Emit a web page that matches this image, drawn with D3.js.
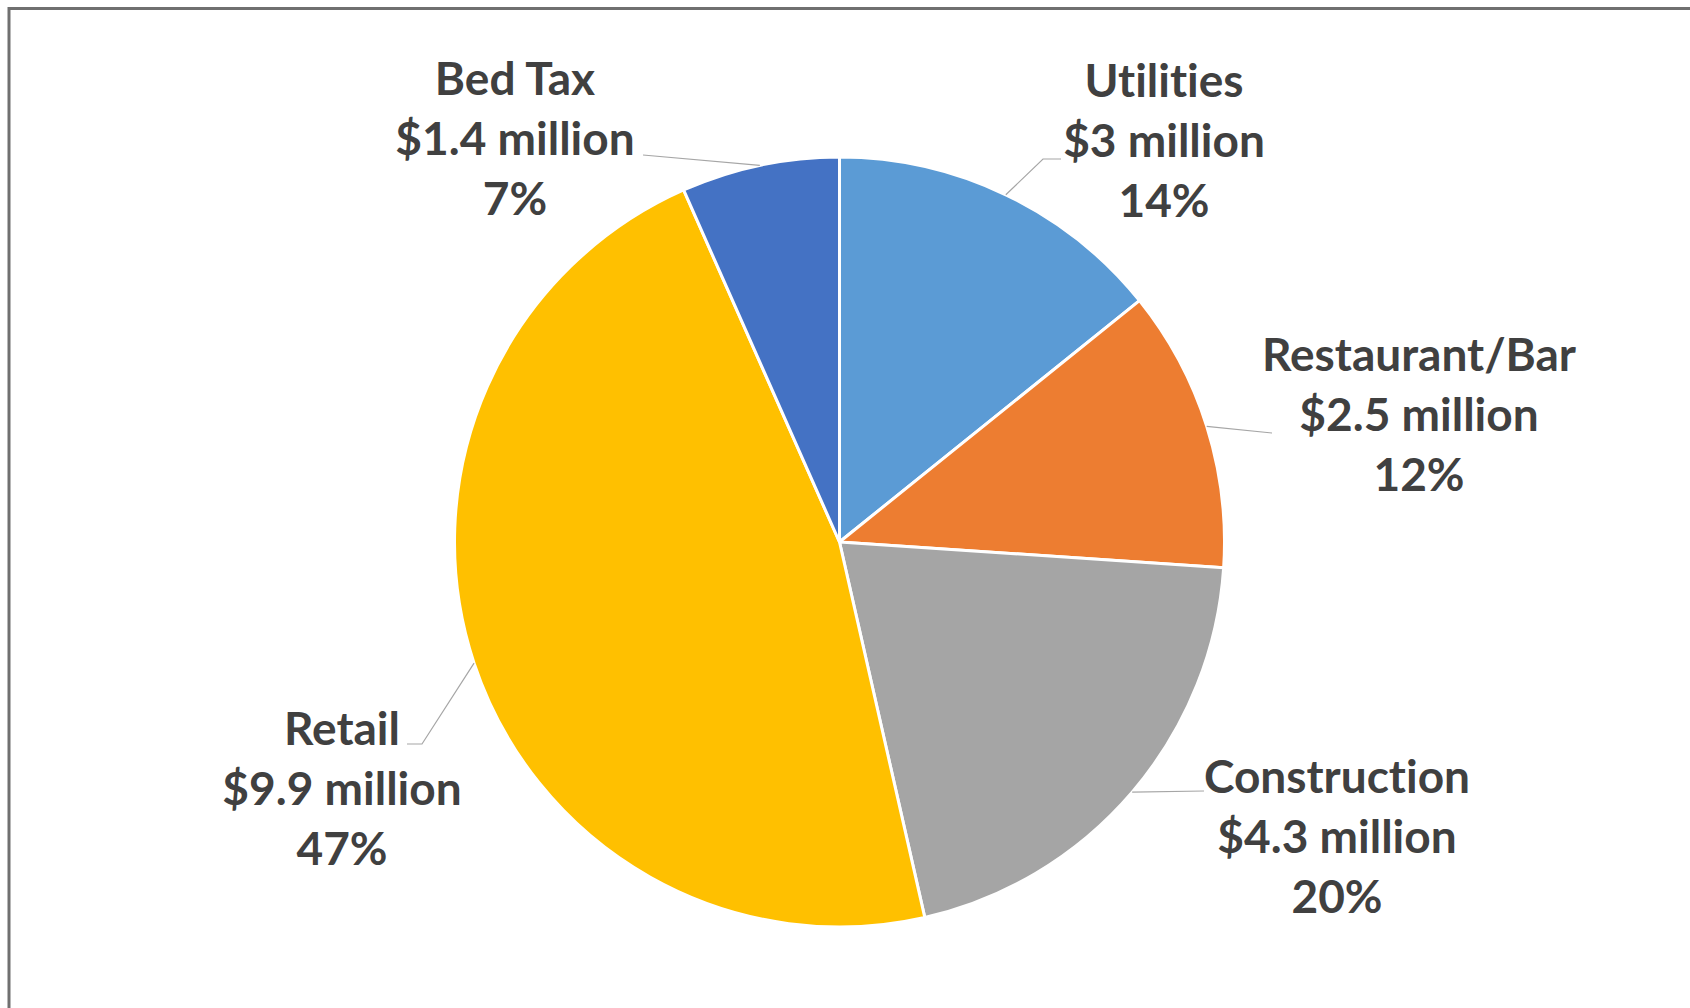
<!DOCTYPE html>
<html>
<head>
<meta charset="utf-8">
<script src="https://cdn.jsdelivr.net/npm/d3@7"></script>
<style>
  body { margin:0; background:#fff; }
  svg { display:block; }
  text.lbl { font-variant-ligatures: none; font-feature-settings: "liga" 0; }
</style>
</head>
<body>
<div class="chart"></div>
<script>
// data (millions of dollars)
var categories = ["Utilities", "Restaurant/Bar", "Construction", "Retail", "Bed Tax"];
var values = [3, 2.5, 4.3, 9.9, 1.4];
var colors = ["#5B9BD5", "#ED7D31", "#A5A5A5", "#FFC000", "#4472C4"];

// label placement (manual, like the original), centre x and first baseline
var labelPos = [[1164, 97], [1419, 371], [1337, 793], [342, 745], [515, 95]];
// leader line end points near the labels
var leaderEnds = [
  [[1043, 159], [1061, 159]],
  [[1272, 433]],
  [[1204, 791]],
  [[422, 744], [407, 744]],
  [[643, 155]]
];

const width = 1690;
const height = 1008;
const cx = 839.5, cy = 542, radius = 385;
const lineGap = 60;

var svg = d3.select(".chart")
  .append("svg")
  .attr("width", width)
  .attr("height", height);

// frame (only top and left edges show, the rest is cut off)
svg.append("rect")
  .attr("x", 9).attr("y", 8.5)
  .attr("width", width + 20).attr("height", height + 20)
  .attr("fill", "none")
  .attr("stroke", "#707070")
  .attr("stroke-width", 3);

var total = d3.sum(values);
var pct = d3.format(".0%");

var pie = d3.pie().sort(null).value(d => d);
var arcs = pie(values);

var arc = d3.arc().innerRadius(0).outerRadius(radius);
var edge = d3.arc().innerRadius(radius).outerRadius(radius);

var g = svg.append("g").attr("transform", "translate(" + cx + "," + cy + ")");

g.selectAll("path.slice")
  .data(arcs)
  .enter()
  .append("path")
  .attr("class", "slice")
  .attr("d", arc)
  .attr("fill", (d, i) => colors[i])
  .attr("stroke", "#fff")
  .attr("stroke-width", 3)
  .attr("stroke-linejoin", "round");

// leader lines: from the middle of each slice's arc to its label
var line = d3.line();
svg.selectAll("path.leader")
  .data(arcs)
  .enter()
  .append("path")
  .attr("class", "leader")
  .attr("d", (d, i) => {
    var c = edge.centroid(d);
    var pts = [[cx + c[0], cy + c[1]]].concat(leaderEnds[i]);
    return line(pts);
  })
  .attr("fill", "none")
  .attr("stroke", "#A6A6A6")
  .attr("stroke-width", 1.2);

// labels
var labels = svg.selectAll("text.lbl")
  .data(arcs)
  .enter()
  .append("text")
  .attr("class", "lbl")
  .attr("text-anchor", "middle")
  .attr("font-family", "Lato, 'Open Sans', sans-serif")
  .attr("font-weight", "bold")
  .attr("font-size", "46px")
  .attr("fill", "#404040");

labels.each(function(d, i) {
  var t = d3.select(this);
  var lines = [categories[i], "$" + values[i] + " million", pct(values[i] / total)];
  lines.forEach((s, k) => {
    t.append("tspan")
      .attr("x", labelPos[i][0])
      .attr("y", labelPos[i][1] + k * lineGap)
      .text(s);
  });
});
</script>
</body>
</html>
